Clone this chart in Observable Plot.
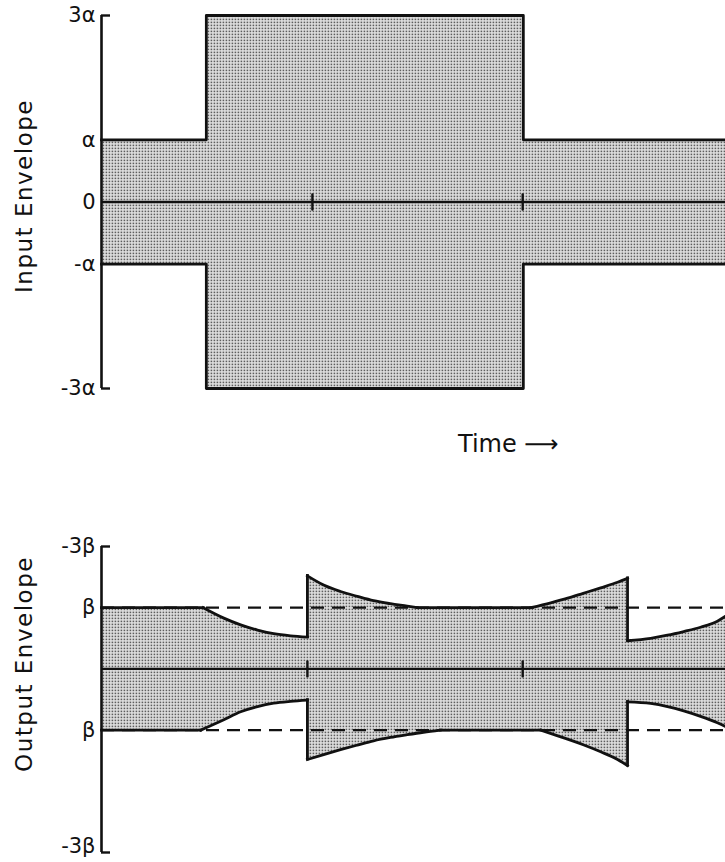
<!DOCTYPE html>
<html><head><meta charset="utf-8">
<script src="https://cdn.jsdelivr.net/npm/d3@7"></script>
<script src="https://cdn.jsdelivr.net/npm/@observablehq/plot@0.6"></script>
<style>
html,body{margin:0;padding:0;background:#fff;}
#wrap{position:relative;width:725px;height:862px;font-family:"DejaVu Sans",sans-serif;color:#111;overflow:hidden;}
.panel{position:absolute;left:0;}
.ytitle{position:absolute;white-space:nowrap;font-size:23px;letter-spacing:1.5px;transform:translate(-50%,-50%) rotate(-90deg);}
#time{position:absolute;left:458px;top:430px;font-size:24px;white-space:nowrap;}
</style></head><body>
<svg width="0" height="0" style="position:absolute"><defs>
<pattern id="stipple" patternUnits="userSpaceOnUse" width="3" height="3">
<rect width="3" height="3" fill="#e2e2e2"/><rect x="0.6" y="0.6" width="1.6" height="1.6" fill="#5e5e5e"/>
</pattern></defs></svg>
<div id="wrap">
  <div id="top" class="panel" style="top:0px"></div>
  <div class="ytitle" style="left:24px;top:196px">Input Envelope</div>
  <div id="time">Time ⟶</div>
  <div id="bottom" class="panel" style="top:530px"></div>
  <div class="ytitle" style="left:24px;top:664px">Output Envelope</div>
</div>
<script>
// ---- Input envelope (top panel), amplitude in units of alpha ----
const inputT   = [0, 16.8, 16.8, 67.6, 67.6, 100];
const inputAmp = [1, 1, 3, 3, 1, 1];
const inputTicks = [3, 1, 0, -1, -3];
const inputTickLabels = ["3α", "α", "0", "-α", "-3α"];
const inputEndTicks = [3, -3];
const inputCenterMarks = [33.8, 67.5];

// ---- Output envelope (bottom panel), amplitude in units of beta ----
const outUpT   = [0, 16.3, 16.3, 19.6, 22.3, 25.0, 27.6, 30.3, 33.0, 33.0, 35.6, 38.3, 41.0, 43.6, 46.3, 49.0, 50.6, 50.6, 68.8, 68.8, 72.0, 74.7, 77.2, 80.0, 82.7, 84.3, 84.3, 88.0, 90.7, 93.3, 96.0, 98.7, 100];
const outUpV   = [1, 1, 1, 0.83, 0.72, 0.635, 0.575, 0.54, 0.52, 1.52, 1.37, 1.265, 1.185, 1.115, 1.065, 1.025, 1.0, 1, 1, 1, 1.08, 1.155, 1.235, 1.325, 1.415, 1.48, 0.46, 0.50, 0.55, 0.61, 0.68, 0.78, 0.86];
const outUpSeg = [0, 0, 1, 1, 1, 1, 1, 1, 1, 2, 2, 2, 2, 2, 2, 2, 2, 3, 3, 4, 4, 4, 4, 4, 4, 4, 5, 5, 5, 5, 5, 5, 5];
const outLoT   = [0, 15.9, 15.9, 19.6, 22.3, 25.0, 27.6, 30.3, 33.0, 33.0, 35.6, 38.3, 41.0, 43.6, 46.3, 49.0, 51.6, 54.3, 54.3, 70.4, 70.4, 73.6, 77.2, 80.0, 82.7, 84.3, 84.3, 88.0, 90.7, 93.3, 96.0, 98.7, 100];
const outLoV   = [-1, -1, -1, -0.83, -0.70, -0.615, -0.56, -0.53, -0.51, -1.48, -1.40, -1.32, -1.245, -1.175, -1.12, -1.075, -1.035, -1.0, -1, -1, -1, -1.11, -1.24, -1.355, -1.48, -1.58, -0.54, -0.565, -0.615, -0.685, -0.775, -0.88, -0.94];
const outLoSeg = [0, 0, 1, 1, 1, 1, 1, 1, 1, 2, 2, 2, 2, 2, 2, 2, 2, 2, 3, 3, 4, 4, 4, 4, 4, 4, 5, 5, 5, 5, 5, 5, 5];
const outTicks = [2, 1, -1];
const outTickLabels = ["-3β", "β", "β"];
const outBottomTick = [-3];
const outBottomLabel = ["-3β"];
const outEndTicks = [2, -3];
const outDashed = [1, -1];
const outCenterMarks = [33.0, 67.5];

const ink = "#111";
const lw = 2.8;
const tickShape = {draw(context, l) { context.moveTo(0, 0); context.lineTo(0, -l); }};

const inputRows = inputT.map((t, i) => ({t, a: inputAmp[i]}));
const mkRows = (ts, vs, ss) => ts.map((t, i) => ({t, v: vs[i], seg: ss[i]}));
const upRows = mkRows(outUpT, outUpV, outUpSeg);
const loRows = mkRows(outLoT, outLoV, outLoSeg);
function jumps(rows) {
  const out = [];
  for (let i = 1; i < rows.length; i++) {
    const p = rows[i - 1], q = rows[i];
    if (p.seg !== q.seg && p.t === q.t && p.v !== q.v) out.push({t: q.t, a: p.v, b: q.v});
  }
  return out;
}
const labelOf = (ticks, labels) => d => labels[ticks.indexOf(d)];
const baseStyle = {fontFamily: "DejaVu Sans, sans-serif", fontSize: "21px", color: ink, background: "transparent", overflow: "visible"};

const topPlot = Plot.plot({
  width: 725, height: 400, marginLeft: 101, marginRight: 0, marginTop: 15, marginBottom: 12,
  x: {domain: [0, 100], axis: null},
  y: {domain: [-3, 3], axis: null},
  style: baseStyle,
  marks: [
    Plot.areaY(inputRows, {x: "t", y1: d => -d.a, y2: "a", fill: "url(#stipple)"}),
    Plot.lineY(inputRows, {x: "t", y: "a", stroke: ink, strokeWidth: lw, strokeLinecap: "square"}),
    Plot.lineY(inputRows, {x: "t", y: d => -d.a, stroke: ink, strokeWidth: lw, strokeLinecap: "square"}),
    Plot.ruleY([0], {stroke: ink, strokeWidth: 2.4}),
    Plot.vector(inputCenterMarks, {x: d => d, y: 0, length: 15, anchor: "middle", shape: tickShape, stroke: ink, fill: "none", strokeWidth: 2.4}),
    Plot.ruleX([0], {stroke: ink, strokeWidth: 2.6}),
    Plot.ruleY(inputEndTicks, {stroke: ink, strokeWidth: 2.4, insetRight: 615}),
    Plot.axisY({ticks: inputTicks, tickFormat: labelOf(inputTicks, inputTickLabels), tickSize: 0, tickPadding: 6, label: null, fontSize: 21})
  ]
});
document.getElementById("top").append(topPlot);

const bottomPlot = Plot.plot({
  width: 725, height: 332, marginLeft: 101, marginRight: 0, marginTop: 16, marginBottom: 10,
  x: {domain: [0, 100], axis: null},
  y: {domain: [-3, 2], axis: null},
  style: baseStyle,
  marks: [
    Plot.areaY(upRows, {x: "t", y1: 0, y2: "v", fill: "url(#stipple)"}),
    Plot.areaY(loRows, {x: "t", y1: "v", y2: 0, fill: "url(#stipple)"}),
    Plot.ruleY(outDashed, {stroke: ink, strokeWidth: 2.2, strokeDasharray: "13,8"}),
    Plot.line(upRows, {x: "t", y: "v", z: "seg", curve: "monotone-x", stroke: ink, strokeWidth: lw, strokeLinecap: "square"}),
    Plot.line(loRows, {x: "t", y: "v", z: "seg", curve: "monotone-x", stroke: ink, strokeWidth: lw, strokeLinecap: "square"}),
    Plot.ruleX(jumps(upRows), {x: "t", y1: "a", y2: "b", stroke: ink, strokeWidth: lw, strokeLinecap: "square"}),
    Plot.ruleX(jumps(loRows), {x: "t", y1: "a", y2: "b", stroke: ink, strokeWidth: lw, strokeLinecap: "square"}),
    Plot.ruleY([0], {stroke: ink, strokeWidth: 2.4}),
    Plot.vector(outCenterMarks, {x: d => d, y: 0, length: 15, anchor: "middle", shape: tickShape, stroke: ink, fill: "none", strokeWidth: 2.4}),
    Plot.ruleX([0], {stroke: ink, strokeWidth: 2.6}),
    Plot.ruleY(outEndTicks, {stroke: ink, strokeWidth: 2.4, insetRight: 615}),
    Plot.axisY({ticks: outTicks, tickFormat: labelOf(outTicks, outTickLabels), tickSize: 0, tickPadding: 6, label: null, fontSize: 21}),
    Plot.axisY({ticks: outBottomTick, tickFormat: labelOf(outBottomTick, outBottomLabel), tickSize: 0, tickPadding: 6, label: null, fontSize: 21, dy: -6})
  ]
});
document.getElementById("bottom").append(bottomPlot);
</script>
</body></html>
